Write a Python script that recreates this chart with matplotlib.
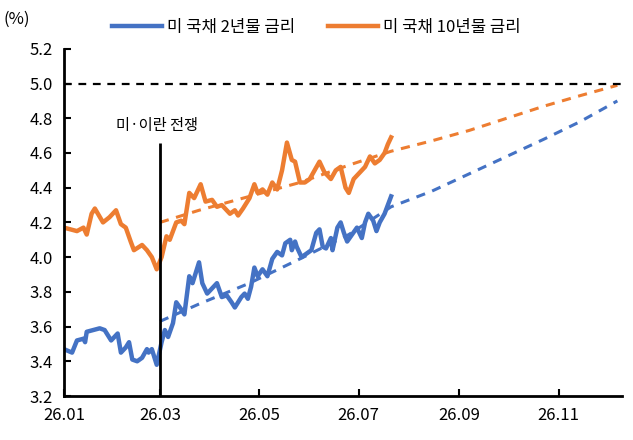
import matplotlib
matplotlib.use('Agg')
import matplotlib.pyplot as plt
import matplotlib.dates as mdates
import pandas as pd

plt.rcParams['font.family'] = ['Noto Sans CJK KR', 'DejaVu Sans']

#%% 데이터
# 미 국채 10년물 금리 (실제)
d10 = ['2026-01-01', '2026-01-05', '2026-01-09', '2026-01-13', '2026-01-15', '2026-01-18',
       '2026-01-20', '2026-01-25', '2026-01-29', '2026-02-02', '2026-02-05', '2026-02-08',
       '2026-02-11', '2026-02-13', '2026-02-18', '2026-02-21', '2026-02-24', '2026-02-27',
       '2026-03-02', '2026-03-05', '2026-03-07', '2026-03-11', '2026-03-14', '2026-03-16',
       '2026-03-19', '2026-03-22', '2026-03-26', '2026-03-29', '2026-04-02', '2026-04-05',
       '2026-04-08', '2026-04-13', '2026-04-16', '2026-04-18', '2026-04-21', '2026-04-25',
       '2026-04-28', '2026-04-30', '2026-05-03', '2026-05-06', '2026-05-09', '2026-05-12',
       '2026-05-15', '2026-05-18', '2026-05-21', '2026-05-23', '2026-05-26', '2026-05-29',
       '2026-06-01', '2026-06-04', '2026-06-07', '2026-06-10', '2026-06-14', '2026-06-17',
       '2026-06-20', '2026-06-23', '2026-06-25', '2026-06-28', '2026-07-02', '2026-07-05',
       '2026-07-08', '2026-07-11', '2026-07-14', '2026-07-17', '2026-07-19', '2026-07-21']
y10 = [4.17, 4.16, 4.15, 4.17, 4.13, 4.25,
       4.28, 4.20, 4.23, 4.27, 4.19, 4.17,
       4.09, 4.04, 4.07, 4.04, 4.00, 3.93,
       4.00, 4.12, 4.10, 4.20, 4.21, 4.19,
       4.37, 4.34, 4.42, 4.32, 4.33, 4.29,
       4.30, 4.25, 4.27, 4.24, 4.28, 4.34,
       4.42, 4.37, 4.39, 4.36, 4.43, 4.39,
       4.50, 4.66, 4.56, 4.55, 4.43, 4.43,
       4.45, 4.50, 4.55, 4.49, 4.45, 4.50,
       4.52, 4.40, 4.37, 4.45, 4.49, 4.52,
       4.58, 4.54, 4.56, 4.60, 4.65, 4.69]

# 미 국채 2년물 금리 (실제)
d2 = ['2026-01-01', '2026-01-06', '2026-01-09', '2026-01-13', '2026-01-14', '2026-01-15',
      '2026-01-19', '2026-01-23', '2026-01-26', '2026-01-30', '2026-02-03', '2026-02-05',
      '2026-02-08', '2026-02-10', '2026-02-12', '2026-02-15', '2026-02-18', '2026-02-21',
      '2026-02-22', '2026-02-24', '2026-02-27', '2026-03-02', '2026-03-04', '2026-03-06',
      '2026-03-09', '2026-03-11', '2026-03-14', '2026-03-16', '2026-03-19', '2026-03-21',
      '2026-03-25', '2026-03-27', '2026-03-30', '2026-04-03', '2026-04-05', '2026-04-08',
      '2026-04-11', '2026-04-14', '2026-04-16', '2026-04-18', '2026-04-20', '2026-04-22',
      '2026-04-24', '2026-04-26', '2026-04-28', '2026-04-30', '2026-05-03', '2026-05-06',
      '2026-05-09', '2026-05-12', '2026-05-15', '2026-05-17', '2026-05-20', '2026-05-21',
      '2026-05-23', '2026-05-24', '2026-05-27', '2026-05-30', '2026-06-02', '2026-06-05',
      '2026-06-07', '2026-06-09', '2026-06-11', '2026-06-14', '2026-06-15', '2026-06-18',
      '2026-06-20', '2026-06-22', '2026-06-24', '2026-06-27', '2026-06-30', '2026-07-03',
      '2026-07-05', '2026-07-07', '2026-07-10', '2026-07-12', '2026-07-14', '2026-07-17',
      '2026-07-19', '2026-07-21']
y2 = [3.47, 3.45, 3.52, 3.53, 3.51, 3.57,
      3.58, 3.59, 3.58, 3.52, 3.56, 3.45,
      3.48, 3.51, 3.41, 3.40, 3.42, 3.47,
      3.45, 3.47, 3.38, 3.51, 3.58, 3.54,
      3.62, 3.74, 3.70, 3.67, 3.89, 3.85,
      3.97, 3.85, 3.79, 3.83, 3.85, 3.77,
      3.78, 3.74, 3.71, 3.74, 3.77, 3.79,
      3.76, 3.83, 3.94, 3.89, 3.93, 3.89,
      3.99, 4.03, 4.01, 4.08, 4.10, 4.04,
      4.09, 4.06, 4.00, 4.02, 4.04, 4.14,
      4.16, 4.06, 4.05, 4.11, 4.04, 4.17,
      4.20, 4.14, 4.09, 4.13, 4.17, 4.11,
      4.20, 4.25, 4.21, 4.15, 4.20, 4.25,
      4.30, 4.35]

# 전망 (점선)
dp = ['2026-03-01', '2026-03-25', '2026-04-25', '2026-05-26', '2026-06-25', '2026-07-21',
      '2026-08-15', '2026-09-07', '2026-09-30', '2026-10-23', '2026-11-14', '2026-12-07']
p10 = [4.20, 4.27, 4.35, 4.43, 4.53, 4.61, 4.67, 4.73, 4.80, 4.87, 4.93, 4.99]
p2 = [3.63, 3.73, 3.85, 3.99, 4.13, 4.29, 4.38, 4.48, 4.58, 4.68, 4.78, 4.90]

war_date = '2026-03-01'
ref_level = 5.0

#%% 그리기
blue = '#4472C4'
orange = '#ED7D31'

fig = plt.figure(figsize=(6.33, 4.40), dpi=100)
ax = fig.add_axes([0.101, 0.10, 0.882, 0.789])

ax.plot(pd.to_datetime(d2), y2, color=blue, lw=3.2, label='미 국채 2년물 금리')
ax.plot(pd.to_datetime(d10), y10, color=orange, lw=3.2, label='미 국채 10년물 금리')
ax.plot(pd.to_datetime(dp), p2, color=blue, lw=2.2, ls=(0, (3, 2.5)))
ax.plot(pd.to_datetime(dp), p10, color=orange, lw=2.2, ls=(0, (3, 2.5)))

ax.axhline(ref_level, color='black', lw=1.6, ls=(0, (3.5, 3)))
ax.vlines(pd.Timestamp(war_date), 3.2, 4.66, color='black', lw=2)
ax.text(pd.Timestamp(war_date) - pd.Timedelta(days=2), 4.76, '미·이란 전쟁',
        ha='center', va='center', fontsize=11)

ax.set_xlim(pd.Timestamp('2026-01-01'), pd.Timestamp('2026-12-10'))
ax.set_ylim(3.2, 5.2)
ax.set_yticks([3.2 + 0.2 * i for i in range(11)])
ax.yaxis.set_major_formatter(plt.FormatStrFormatter('%.1f'))
ax.xaxis.set_major_locator(mdates.MonthLocator(bymonth=[1, 3, 5, 7, 9, 11]))
ax.xaxis.set_major_formatter(mdates.DateFormatter('%y.%m'))

ax.spines['top'].set_visible(False)
ax.spines['right'].set_visible(False)
ax.spines['left'].set_linewidth(2)
ax.spines['bottom'].set_linewidth(2)
ax.tick_params(direction='in', length=5, width=1.5, labelsize=12, pad=8)

fig.text(0.005, 0.955, '(%)', fontsize=12, va='center')
fig.legend(loc='center', bbox_to_anchor=(0.5, 0.938), ncol=2, frameon=False,
           fontsize=12, handlelength=3, columnspacing=2, handletextpad=0.3)

fig.savefig('out.png', dpi=100)
